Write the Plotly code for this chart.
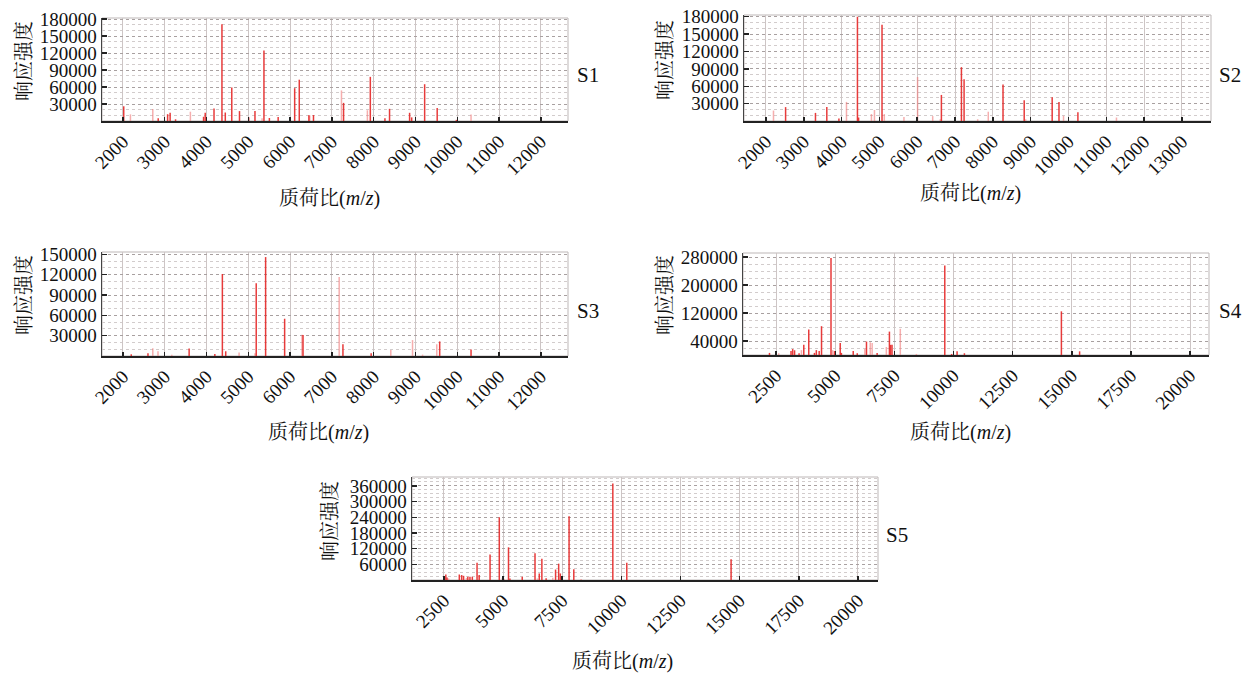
import plotly.graph_objects as go

# ---------------- data (m/z, intensity) ----------------
s1_mz_main = [2020, 2845, 3070, 3130, 3260, 3930, 3970, 4180, 4370, 4450, 4605, 4790, 5010, 5160, 5375,
              5505, 5715, 6110, 6220, 6450, 6560, 7280, 7920, 8270, 8380, 8860, 8910, 9220, 9520, 9980]
s1_int_main = [26000, 5000, 12000, 14500, 3000, 7500, 14500, 22000, 171000, 15000, 59000, 17500, 6500, 17500, 124500,
               5300, 7000, 58000, 73000, 10000, 10500, 32000, 78000, 4700, 21500, 14500, 6400, 65000, 23000, 2000]
s1_mz_weak = [2180, 2715, 3615, 5330, 6470, 7230, 7850, 10330]
s1_int_weak = [11700, 21000, 16400, 4700, 10000, 54000, 19000, 11700]

s2_mz_main = [2520, 3310, 3610, 3930, 4420, 4450, 5070, 6640, 7170, 7240, 8270, 8830, 9570, 9750, 10250]
s2_int_main = [24000, 14000, 24000, 4200, 180000, 6000, 166000, 45000, 93000, 72000, 63000, 36000, 41000, 33000, 15000]
s2_mz_weak = [2200, 4130, 4790, 4870, 5130, 5650, 6010, 6410, 6610, 7600, 7880, 8870, 9870, 11270]
s2_int_weak = [18000, 33000, 12000, 19000, 12000, 7000, 76000, 8500, 3000, 3000, 16000, 3000, 9000, 6000]

s3_mz_main = [2200, 2600, 3585, 4200, 4380, 4460, 5190, 5415, 5870, 6310, 7265, 7940, 9580, 10330]
s3_int_main = [2500, 4000, 11000, 3000, 121000, 7000, 107500, 146000, 55000, 31000, 17500, 4000, 21500, 9500]
s3_mz_weak = [2715, 2840, 3170, 4780, 5160, 6285, 7175, 8410, 8930, 9170, 9510]
s3_int_weak = [11500, 7000, 2000, 5000, 4000, 31500, 116500, 9000, 23500, 2000, 17500]

s4_mz_main = [2220, 3130, 3200, 3280, 3470, 3670, 3880, 4120, 4200, 4320, 4420, 4820, 4970, 5210, 5260, 5760,
              5930, 6320, 6770, 7290, 7340, 7400, 9630, 9920, 10150, 10460, 14560, 15330]
s4_int_main = [6000, 11500, 17000, 13500, 5000, 29000, 73000, 6000, 14000, 11500, 82500, 278000, 11500, 34500, 6000, 11500,
               5000, 38500, 6000, 67000, 29000, 29000, 256000, 3000, 10500, 5000, 125000, 10500]
s4_mz_weak = [2610, 3570, 4890, 6250, 6480, 6560, 7160, 7750, 8430]
s4_int_weak = [5000, 14000, 14000, 17000, 36500, 34500, 23000, 75000, 3000]

s5_mz_main = [2580, 2630, 3150, 3250, 3330, 3510, 3600, 3700, 3900, 3990, 4450, 4840, 4980, 5230, 5290, 5810,
              6350, 6530, 6640, 6820, 7220, 7350, 7420, 7790, 7990, 9640, 10230, 14640]
s5_int_main = [21000, 10000, 21000, 19000, 16000, 12500, 12500, 12500, 66000, 19000, 97500, 240000, 8000, 125000, 6000, 12500,
               102500, 25000, 81000, 7000, 40000, 62500, 25000, 244000, 41000, 369000, 66000, 79000]
s5_mz_weak = [2700, 3450, 5050, 6450, 7100, 8300]
s5_int_weak = [6000, 8000, 5000, 6000, 9000, 4000]

s1_yticks = [30000, 60000, 90000, 120000, 150000, 180000]
s2_yticks = [30000, 60000, 90000, 120000, 150000, 180000]
s3_yticks = [30000, 60000, 90000, 120000, 150000]
s4_yticks = [40000, 120000, 200000, 280000]
s5_yticks = [60000, 120000, 180000, 240000, 300000, 360000]

s1_xticks = list(range(2000, 12001, 1000))
s2_xticks = list(range(2000, 13001, 1000))
s3_xticks = list(range(2000, 12001, 1000))
s4_xticks = [2500, 5000, 7500, 10000, 12500, 15000, 17500, 20000]
s5_xticks = [2500, 5000, 7500, 10000, 12500, 15000, 17500, 20000]

labels = ["S1", "S2", "S3", "S4", "S5"]

# ---------------- layout settings ----------------
W, H = 1242, 673
FONT = "Liberation Serif, Noto Serif CJK SC, Noto Sans CJK SC, serif"
RED = "rgba(228,38,38,0.9)"
PINK = "rgba(240,120,120,0.6)"

panels = [
    dict(main=(s1_mz_main, s1_int_main), weak=(s1_mz_weak, s1_int_weak), yt=s1_yticks, xt=s1_xticks,
         px=(102, 568), py=(18, 121), xr=[1500, 12650], yr=[0, 182000], minor=10000,
         ytitle=(24, 61), xtitle=(329, 199), lab=(588, 75)),
    dict(main=(s2_mz_main, s2_int_main), weak=(s2_mz_weak, s2_int_weak), yt=s2_yticks, xt=s2_xticks,
         px=(744, 1211), py=(15, 121), xr=[1420, 13770], yr=[0, 183000], minor=10000,
         ytitle=(665, 60), xtitle=(970, 194), lab=(1230, 75)),
    dict(main=(s3_mz_main, s3_int_main), weak=(s3_mz_weak, s3_int_weak), yt=s3_yticks, xt=s3_xticks,
         px=(102, 568), py=(252, 356), xr=[1500, 12650], yr=[0, 153500], minor=10000,
         ytitle=(24, 295), xtitle=(319, 433), lab=(588, 311)),
    dict(main=(s4_mz_main, s4_int_main), weak=(s4_mz_weak, s4_int_weak), yt=s4_yticks, xt=s4_xticks,
         px=(743, 1209), py=(253, 355), xr=[1100, 20800], yr=[0, 292000], minor=20000,
         ytitle=(665, 295), xtitle=(960, 433), lab=(1230, 311)),
    dict(main=(s5_mz_main, s5_int_main), weak=(s5_mz_weak, s5_int_weak), yt=s5_yticks, xt=s5_xticks,
         px=(412, 878), py=(477, 580), xr=[1150, 20850], yr=[0, 394000], minor=15000,
         ytitle=(330, 521), xtitle=(622, 661), lab=(897, 535)),
]


def stems(xs, ys):
    """Vertical stick segments from the baseline up to each intensity value."""
    sx, sy = [], []
    for x, y in zip(xs, ys):
        sx += [x, x, None]
        sy += [0, y, None]
    return sx, sy


fig = go.Figure()
annotations = []
shapes = []
layout_axes = {}

for i, p in enumerate(panels):
    n = i + 1
    xa = "x" if n == 1 else f"x{n}"
    ya = "y" if n == 1 else f"y{n}"
    xkey = "xaxis" if n == 1 else f"xaxis{n}"
    ykey = "yaxis" if n == 1 else f"yaxis{n}"

    wx, wy = stems(*p["weak"])
    fig.add_trace(go.Scatter(x=wx, y=wy, mode="lines", xaxis=xa, yaxis=ya,
                             line=dict(color=PINK, width=1.5), showlegend=False, hoverinfo="skip"))
    mx, my = stems(*p["main"])
    fig.add_trace(go.Scatter(x=mx, y=my, mode="lines", xaxis=xa, yaxis=ya,
                             line=dict(color=RED, width=1.5), showlegend=False, hoverinfo="skip"))

    x0, x1 = p["px"]
    yt, yb = p["py"]
    layout_axes[xkey] = dict(
        domain=[x0 / W, x1 / W], anchor=ya, range=p["xr"], automargin=False,
        tickmode="array", tickvals=p["xt"], ticktext=[str(v) for v in p["xt"]],
        tickangle=-45, tickfont=dict(family=FONT, size=19, color="#111"),
        ticks="inside", ticklen=4, tickwidth=1.5, tickcolor="#222",
        showline=True, linecolor="#222", linewidth=2,
        showgrid=True, gridcolor="#cdc5c5", gridwidth=1, zeroline=False,
        fixedrange=True,
    )
    layout_axes[ykey] = dict(
        domain=[(H - yb) / H, (H - yt) / H], anchor=xa, range=p["yr"], automargin=False,
        tickmode="array", tickvals=p["yt"], ticktext=[str(v) for v in p["yt"]],
        tickfont=dict(family=FONT, size=19, color="#111"),
        ticks="inside", ticklen=5, tickwidth=1.5, tickcolor="#222",
        showline=True, linecolor="#444", linewidth=1.5,
        showgrid=True, gridcolor="#a8a0a0", gridwidth=1, griddash="dot", zeroline=False,
        minor=dict(tickmode="linear", tick0=0, dtick=p["minor"], showgrid=True,
                   gridcolor="#d2cccc", gridwidth=1, griddash="dot", ticks=""),
        fixedrange=True,
    )

    shapes.append(dict(type="rect", xref=f"{xa} domain", yref=f"{ya} domain",
                       x0=0, x1=1, y0=0, y1=1, line=dict(color="#bdb7b7", width=1), layer="below"))

    tx, ty = p["ytitle"]
    annotations.append(dict(text="响应强度", x=tx / W, y=(H - ty) / H, xref="paper", yref="paper",
                            textangle=-90, showarrow=False, xanchor="center", yanchor="middle",
                            font=dict(family=FONT, size=20, color="#111")))
    tx, ty = p["xtitle"]
    annotations.append(dict(text="质荷比(<i>m</i>/<i>z</i>)", x=tx / W, y=(H - ty) / H,
                            xref="paper", yref="paper", showarrow=False,
                            xanchor="center", yanchor="middle",
                            font=dict(family=FONT, size=20, color="#111")))
    tx, ty = p["lab"]
    annotations.append(dict(text=labels[i], x=tx / W, y=(H - ty) / H, xref="paper", yref="paper",
                            showarrow=False, xanchor="center", yanchor="middle",
                            font=dict(family=FONT, size=21, color="#111")))

fig.update_layout(
    template="none",
    width=W, height=H,
    margin=dict(l=0, r=0, t=0, b=0, pad=0, autoexpand=False),
    paper_bgcolor="white", plot_bgcolor="white",
    annotations=annotations, shapes=shapes,
    **layout_axes,
)

fig.write_html("out.html",
               config={"displayModeBar": False, "staticPlot": True},
               post_script="document.body.style.margin='0';document.body.style.padding='0';")
